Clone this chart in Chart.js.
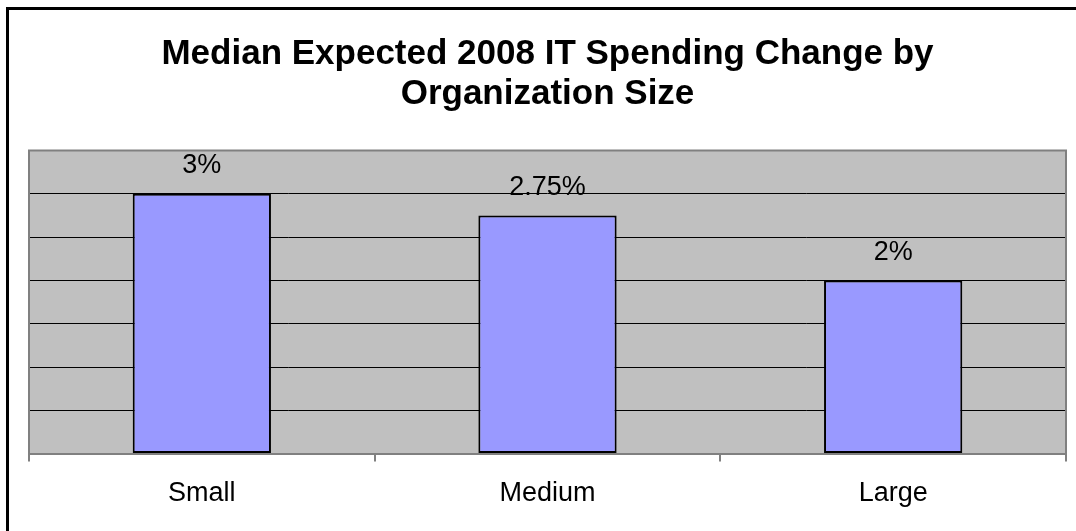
<!DOCTYPE html>
<html>
<head>
<meta charset="utf-8">
<style>
  html, body { margin: 0; padding: 0; background: #fff; overflow: hidden; }
  #wrap { position: relative; width: 1076px; height: 531px; }
  canvas { display: block; }
</style>
<script src="https://cdn.jsdelivr.net/npm/chart.js@4/dist/chart.umd.min.js"></script>
</head>
<body>
<div id="wrap"><canvas id="c" width="1076" height="531"></canvas></div>
<script>
// Organization size categories and the median expected change (%)
const categories = ['Small', 'Medium', 'Large'];
const spendingChange = [3, 2.75, 2];
const titleLines = ['Median Expected 2008 IT Spending Change by', 'Organization Size'];
const yMin = 0, yMax = 3.5, yStep = 0.5;

const FONT = "'Liberation Sans', Arial, Helvetica, sans-serif";

// Outer frame and grey plot background
const framePlugin = {
  id: 'frame',
  beforeDraw(chart) {
    const ctx = chart.ctx, a = chart.chartArea;
    ctx.save();
    ctx.fillStyle = '#ffffff';
    ctx.fillRect(0, 0, chart.width, chart.height);
    ctx.strokeStyle = '#000000';
    ctx.lineWidth = 3;
    ctx.strokeRect(7.5, 8.5, chart.width + 20, chart.height + 20);
    ctx.fillStyle = '#c0c0c0';
    ctx.fillRect(a.left, a.top, a.right - a.left, a.bottom - a.top);
    ctx.restore();
  },
  afterDatasetsDraw(chart) {
    const ctx = chart.ctx, a = chart.chartArea;
    ctx.save();
    ctx.strokeStyle = '#808080';
    ctx.lineWidth = 2;
    ctx.beginPath();
    ctx.moveTo(a.left, a.bottom);
    ctx.lineTo(a.left, a.top);
    ctx.lineTo(a.right, a.top);
    ctx.lineTo(a.right, a.bottom);
    ctx.stroke();
    ctx.restore();
  }
};

// Value labels above each bar
const valueLabels = {
  id: 'valueLabels',
  afterDatasetsDraw(chart) {
    const ctx = chart.ctx;
    const meta = chart.getDatasetMeta(0);
    ctx.save();
    ctx.font = '27px ' + FONT;
    ctx.fillStyle = '#000000';
    ctx.textAlign = 'center';
    ctx.textBaseline = 'middle';
    meta.data.forEach((bar, i) => {
      const v = chart.data.datasets[0].data[i];
      ctx.fillText(v + '%', bar.x, bar.y - 28);
    });
    ctx.restore();
  }
};

new Chart(document.getElementById('c'), {
  type: 'bar',
  data: {
    labels: categories,
    datasets: [{
      data: spendingChange,
      backgroundColor: '#9999ff',
      borderColor: '#000000',
      borderWidth: 2,
      borderSkipped: false,
      barPercentage: 0.4,
      categoryPercentage: 1.0
    }]
  },
  options: {
    responsive: false,
    animation: false,
    devicePixelRatio: 1,
    layout: { padding: { left: 29, right: 10, top: 34, bottom: 5 } },
    plugins: {
      legend: { display: false },
      tooltip: { enabled: false },
      title: {
        display: true,
        text: titleLines,
        color: '#000000',
        font: { family: FONT, size: 35, weight: 'bold', lineHeight: 1.15 },
        padding: { top: 0, bottom: 36 }
      }
    },
    scales: {
      x: {
        offset: true,
        grid: {
          offset: true,
          drawOnChartArea: false,
          drawTicks: true,
          tickLength: 8,
          color: '#808080',
          lineWidth: 2
        },
        border: { display: true, color: '#808080', width: 2 },
        ticks: {
          color: '#000000',
          padding: 16,
          font: { family: FONT, size: 27 }
        }
      },
      y: {
        min: yMin,
        max: yMax,
        ticks: { display: false, stepSize: yStep },
        grid: {
          drawTicks: false,
          color: (c) => (c.tick && (c.tick.value === yMin || c.tick.value === yMax)) ? 'rgba(0,0,0,0)' : '#000000',
          lineWidth: 1
        },
        border: { display: false }
      }
    }
  },
  plugins: [framePlugin, valueLabels]
});
</script>
</body>
</html>
